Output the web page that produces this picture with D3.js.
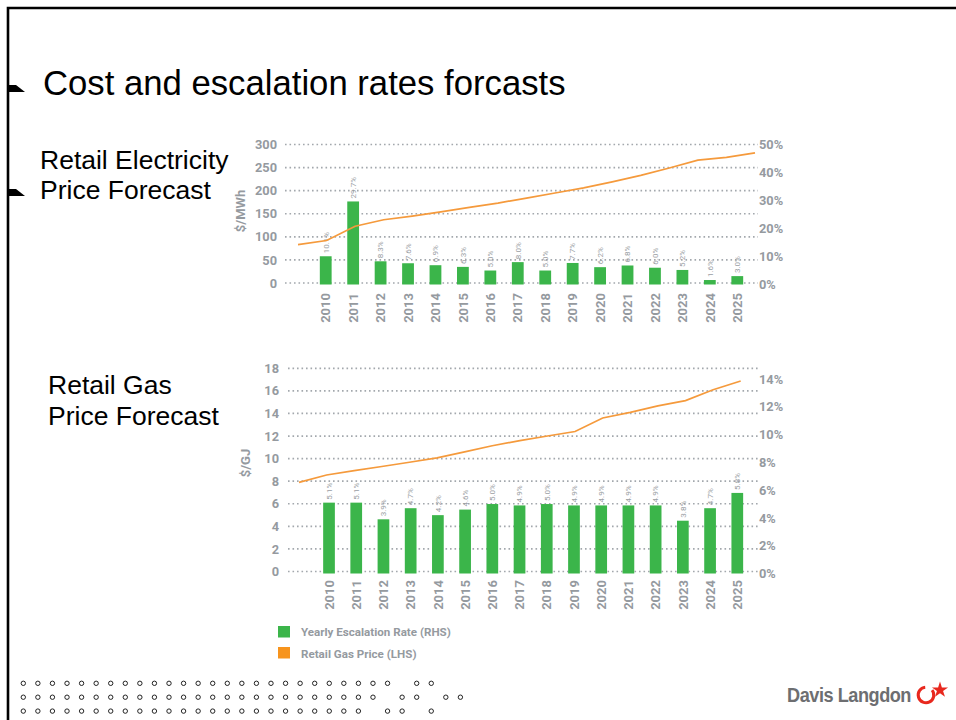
<!DOCTYPE html>
<html><head><meta charset="utf-8">
<script src="https://cdn.jsdelivr.net/npm/d3@7"></script>
<style>body{margin:0;background:#fff}svg{display:block}</style>
</head><body>
<svg id="c" width="956" height="720"></svg>
<script>
// ---------- data ----------
const years = ["2010","2011","2012","2013","2014","2015","2016","2017","2018","2019","2020","2021","2022","2023","2024","2025"];
const elecRate = [10.1, 29.7, 8.3, 7.6, 6.9, 6.3, 5.0, 8.0, 5.0, 7.7, 6.2, 6.8, 6.0, 5.2, 1.6, 3.0];
const lineYears = [2009,2010,2011,2012,2013,2014,2015,2016,2017,2018,2019,2020,2021,2022,2023,2024,2025];
const elecPrice = [83, 92, 123, 137, 145, 154, 164, 173, 184, 195, 206, 219, 233, 249, 266, 272, 282];
const gasRate = [5.1, 5.1, 3.9, 4.7, 4.2, 4.6, 5.0, 4.9, 5.0, 4.9, 4.9, 4.9, 4.9, 3.8, 4.7, 5.8];
const gasPrice = [7.9, 8.55, 8.93, 9.3, 9.68, 10.06, 10.6, 11.14, 11.6, 12.0, 12.4, 13.6, 14.1, 14.67, 15.14, 16.1, 16.87];
const elecLeftTicks = [0, 50, 100, 150, 200, 250, 300];
const elecRightTicks = [0, 10, 20, 30, 40, 50];
const gasLeftTicks = [0, 2, 4, 6, 8, 10, 12, 14, 16, 18];
const gasRightTicks = [0, 2, 4, 6, 8, 10, 12, 14];
const legendLabels = ["Yearly Escalation Rate (RHS)", "Retail Gas Price (LHS)"];

// ---------- styles ----------
const GREEN = "#3bb54a", ORANGE = "#f59a3c", LEGEND_ORANGE = "#f7941d";
const GRAY = "#959a9f", GRID = "#a3a8ad";
const AXF = "Roboto, 'DejaVu Sans', sans-serif";
const SLIDEF = "'Liberation Sans', Arial, sans-serif";

const svg = d3.select("#c");

// slide frame
svg.append("path").attr("d", d3.line()([[8,720],[8,8],[956,8]]))
  .attr("fill","none").attr("stroke","#000").attr("stroke-width",2.6);

// bullets
[[85,92],[189,196]].forEach(([t,b]) => {
  svg.append("path").attr("d", d3.line()([[9,t],[16,t],[25,b],[9,b]]) + "Z").attr("fill","#000");
});

// slide texts
svg.append("text").attr("x",43).attr("y",95).attr("font-family",SLIDEF).attr("font-size",34.7)
  .attr("fill","#000").text("Cost and escalation rates forcasts");
[["Retail Electricity",40,168.5],["Price Forecast",40,199],["Retail Gas",48,394],["Price Forecast",48,425]]
  .forEach(([t,x,y]) => svg.append("text").attr("x",x).attr("y",y).attr("font-family",SLIDEF)
    .attr("font-size",26.5).attr("fill","#000").text(t));

function drawChart(o) {
  const g = svg.append("g");
  const x = d3.scaleBand().domain(years).range(o.bandRange).paddingInner(0.57).paddingOuter(0.285);
  const yL = d3.scaleLinear().domain(o.leftDomain).range(o.leftRange);
  const yR = d3.scaleLinear().domain(o.rightDomain).range(o.rightRange);
  const xl = d3.scaleLinear().domain([lineYears[0], lineYears[lineYears.length-1]]).range(o.lineRange);

  // dotted grid
  g.selectAll("line.grid").data(o.leftTicks).join("line")
    .attr("x1", o.gridX[0]).attr("x2", o.gridX[1])
    .attr("y1", d => yL(d)).attr("y2", d => yL(d))
    .attr("stroke", GRID).attr("stroke-width", 1.7).attr("stroke-dasharray", "1.6,2.9");

  // left tick labels
  g.selectAll("text.lt").data(o.leftTicks).join("text")
    .attr("x", o.leftLabelX).attr("y", d => yL(d)).attr("dy","0.36em")
    .attr("text-anchor","end").attr("font-family",AXF).attr("font-weight",700)
    .attr("font-size",12.8).attr("fill",GRAY).text(d => d);

  // right tick labels
  g.selectAll("text.rt").data(o.rightTicks).join("text")
    .attr("x", o.rightLabelX).attr("y", d => yR(d)).attr("dy","0.36em")
    .attr("text-anchor","start").attr("font-family",AXF).attr("font-weight",700)
    .attr("font-size",12.8).attr("fill",GRAY).text(d => d + "%");

  // y title
  g.append("text").attr("transform", `translate(${o.titlePos[0]},${o.titlePos[1]}) rotate(-90)`)
    .attr("text-anchor","middle").attr("dy","0.36em").attr("font-family",AXF).attr("font-weight",700)
    .attr("font-size",13).attr("fill",GRAY).text(o.yTitle);

  // bars
  g.selectAll("rect.bar").data(o.rates).join("rect")
    .attr("x", (d,i) => x(years[i])).attr("width", x.bandwidth())
    .attr("y", d => yR(d)).attr("height", d => yR(0) - yR(d)).attr("fill", GREEN);

  // bar value labels
  g.selectAll("text.bl").data(o.rates).join("text")
    .attr("transform", (d,i) => `translate(${x(years[i]) + x.bandwidth()/2},${yR(d) - 3}) rotate(-90)`)
    .attr("dy","0.35em").attr("font-family",AXF).attr("font-size",8).attr("fill","#9a9ea3")
    .text(d => d3.format(".1f")(d) + "%");

  // year labels
  g.selectAll("text.yr").data(years).join("text")
    .attr("transform", d => `translate(${x(d) + x.bandwidth()/2},${o.yearY}) rotate(-90)`)
    .attr("text-anchor","end").attr("dy","0.36em").attr("font-family",AXF).attr("font-weight",700)
    .attr("font-size",13).attr("fill",GRAY).text(d => d);

  // price line
  g.append("path").datum(o.prices)
    .attr("d", d3.line().x((d,i) => xl(lineYears[i])).y(d => yL(d)))
    .attr("fill","none").attr("stroke",ORANGE).attr("stroke-width",1.7);
}

drawChart({
  rates: elecRate, prices: elecPrice,
  bandRange: [312, 751], lineRange: [298, 755],
  leftDomain: [0, 300], leftRange: [283, 144.5],
  rightDomain: [0, 50], rightRange: [284.5, 144.7],
  leftTicks: elecLeftTicks, rightTicks: elecRightTicks,
  gridX: [285, 758], leftLabelX: 277, rightLabelX: 759,
  titlePos: [240.5, 211], yTitle: "$/MWh", yearY: 293
});

drawChart({
  rates: gasRate, prices: gasPrice,
  bandRange: [315.4, 750.9], lineRange: [299, 740.7],
  leftDomain: [0, 18], leftRange: [571.5, 368.3],
  rightDomain: [0, 14], rightRange: [573.5, 379],
  leftTicks: gasLeftTicks, rightTicks: gasRightTicks,
  gridX: [288, 758], leftLabelX: 279, rightLabelX: 759,
  titlePos: [245, 463], yTitle: "$/GJ", yearY: 580
});

// legend
const lg = svg.append("g");
lg.selectAll("rect").data(legendLabels).join("rect")
  .attr("x", 278).attr("y", (d,i) => 626 + i*21).attr("width", 12).attr("height", 11.5)
  .attr("fill", (d,i) => i === 0 ? GREEN : LEGEND_ORANGE);
lg.selectAll("text").data(legendLabels).join("text")
  .attr("x", 301).attr("y", (d,i) => 632 + i*21.5).attr("dy","0.36em")
  .attr("font-family",AXF).attr("font-weight",700).attr("font-size",11.6).attr("fill",GRAY).text(d => d);

// decorative circles
const dotRows = [
  [0,1,2,3,4,5,6,7,8,9,10,11,12,13,14,15,16,17,18,19,20,21,22,23,24,25,27,28],
  [0,1,2,3,4,5,6,7,8,9,10,11,12,13,14,15,16,17,18,19,20,21,22,23,24,26,27,29,30],
  [0,1,2,3,4,5,6,7,8,9,10,11,12,13,14,15,16,17,18,19,20,21,22,23,25,26,28]
];
dotRows.forEach((row, r) => {
  svg.selectAll(null).data(row).join("circle")
    .attr("cx", d => 23.3 + d*14.57).attr("cy", 683.3 + r*13.9).attr("r", 2.2)
    .attr("fill","none").attr("stroke","#222").attr("stroke-width",1);
});

// logo
svg.append("text").attr("x",787).attr("y",702).attr("font-family","'Liberation Sans Narrow', 'Liberation Sans', Arial, sans-serif")
  .attr("font-weight","bold").attr("font-size",19.5).attr("fill","#6d6e71").attr("letter-spacing",-0.5)
  .attr("textLength",124).attr("lengthAdjust","spacingAndGlyphs").text("Davis Langdon");
const arc = d3.arc().innerRadius(6.3).outerRadius(9.3).startAngle(0.9).endAngle(2*Math.PI - 0.1);
svg.append("path").attr("transform","translate(926,695)").attr("d", arc()).attr("fill","#e8281e");
const star = d3.symbol().type(d3.symbolStar).size(80);
svg.append("path").attr("transform","translate(940,690)").attr("d", star()).attr("fill","#e8281e");
</script>
</body></html>
